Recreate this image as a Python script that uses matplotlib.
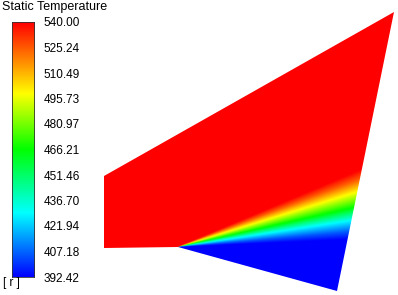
import numpy as np
import matplotlib
matplotlib.use("Agg")
from matplotlib import pyplot as plt
from matplotlib.colors import LinearSegmentedColormap
from matplotlib.patches import Polygon

plt.rcParams['font.family'] = ['Liberation Sans', 'DejaVu Sans']

# domain outline [mm], corner of the step at the origin
domain_x = [-7.4, -7.4, 0.0, 15.9, 21.6]
domain_y = [7.1, -0.1, 0.0, -4.4, 23.5]

# temperature across the expansion fan, by angle from the corner [deg]
fan_angle = [-20.0, 2.5, 5.0, 8.5, 12.6, 16.6, 20.5, 23.0, 90.0]
fan_temp = [392.42, 392.42, 405.0, 428.0, 466.0, 495.0, 525.0, 540.0, 540.0]

t_min = 392.42
t_max = 540.00
tick_labels = ['392.42', '407.18', '421.94', '436.70', '451.46', '466.21',
               '480.97', '495.73', '510.49', '525.24', '540.00']

fluent = LinearSegmentedColormap.from_list(
    'fluent', [(0.0, (0, 0, 1)), (0.25, (0, 1, 1)), (0.5, (0, 1, 0)),
               (0.72, (1, 1, 0)), (1.0, (1, 0, 0))])

W, H = 398, 295
fig = plt.figure(figsize=(W / 100, H / 100), dpi=100)
ax = fig.add_axes([0, 0, 1, 1])
ax.set_xlim(-17.8, 22.0)
ax.set_ylim(-4.8, 24.7)
ax.axis('off')

gx = np.linspace(-17.8, 22.0, 800)
gy = np.linspace(-4.8, 24.7, 600)
XX, YY = np.meshgrid(gx, gy)
ang = np.degrees(np.arctan2(YY, XX))
ang[XX < 0] = 90.0
field = np.interp(ang, fan_angle, fan_temp)

im = ax.imshow(field, origin='lower', extent=[gx[0], gx[-1], gy[0], gy[-1]],
               cmap=fluent, vmin=t_min, vmax=t_max, interpolation='bilinear')
outline = Polygon(np.column_stack([domain_x, domain_y]), closed=True,
                  facecolor='none', edgecolor='none', transform=ax.transData)
ax.add_patch(outline)
im.set_clip_path(outline)

cax = fig.add_axes([12 / W, (H - 277) / H, 22 / W, 255 / H])
grad = np.linspace(t_min, t_max, 256).reshape(-1, 1)
cax.imshow(grad, origin='lower', aspect='auto', cmap=fluent,
           extent=[0, 1, t_min, t_max], vmin=t_min, vmax=t_max)
cax.set_xticks([])
cax.set_yticks(np.linspace(t_min, t_max, len(tick_labels)))
cax.set_yticklabels(tick_labels, fontsize=8.5)
cax.yaxis.tick_right()
cax.tick_params(axis='y', length=0, pad=7)
for s in cax.spines.values():
    s.set_linewidth(0.6)
    s.set_color('#333333')

fig.text(2 / W, 1 - 7 / H, 'Static Temperature', fontsize=9, va='center', ha='left')
fig.text(3 / W, 1 - 283 / H, '[ r ]', fontsize=8.5, va='center', ha='left')

fig.savefig('out.png', dpi=100)
